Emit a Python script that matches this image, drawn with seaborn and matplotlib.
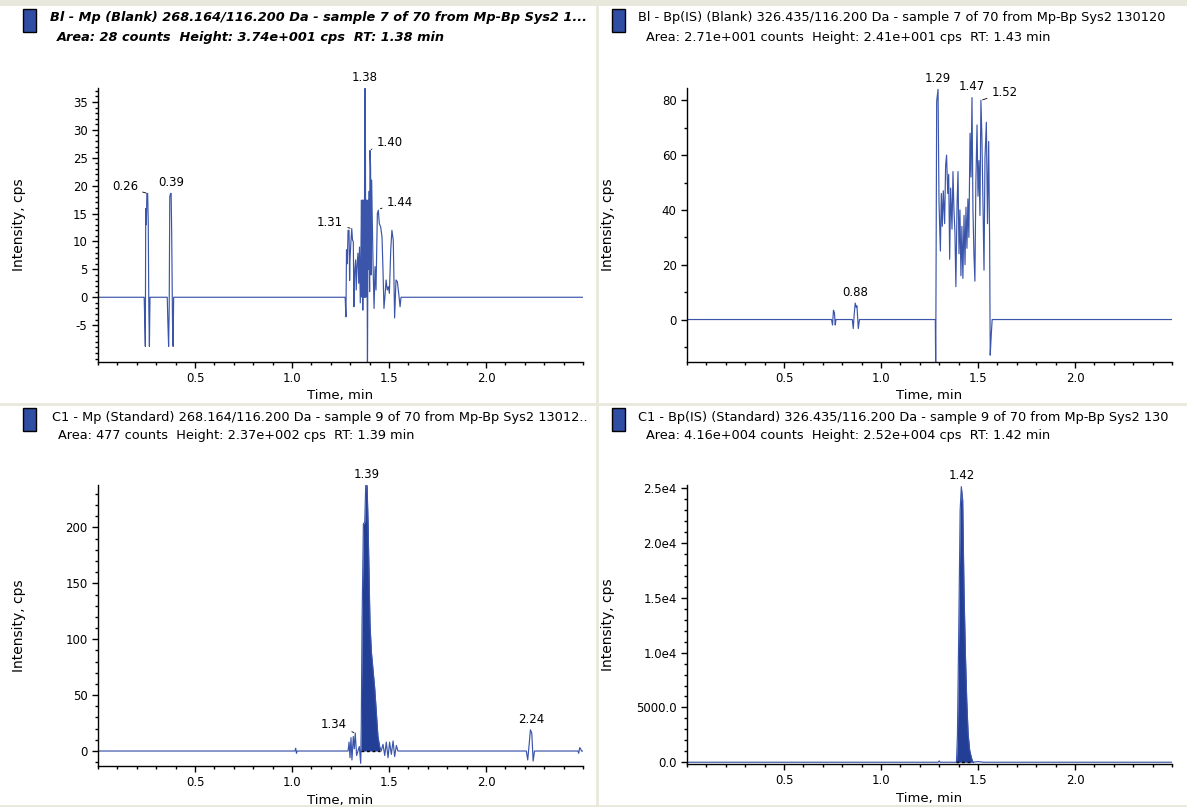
import matplotlib
matplotlib.use('Agg')
import matplotlib.pyplot as plt
import seaborn as sns
from matplotlib.lines import Line2D
from matplotlib.patches import Rectangle
from matplotlib.ticker import MultipleLocator

W, H = 1187, 807
LINE_BLUE = '#3b55aa'
FILL_BLUE = '#233e95'
ICON_BLUE = '#2f4ea3'
FRAME = '#e9e8dc'

# Bl - Mp (Blank): time (min) / intensity (cps)
blank_mp_time = [0.00, 0.238, 0.241, 0.244, 0.246, 0.249, 0.252, 0.256, 0.259, 0.262, 0.265, 0.268,
                 0.357, 0.360, 0.364, 0.367, 0.370, 0.374, 0.377, 0.380, 0.384, 0.387, 0.390,
                 1.274, 1.278, 1.281, 1.285, 1.289, 1.294, 1.297, 1.299, 1.303, 1.308, 1.312, 1.316,
                 1.319, 1.323, 1.328, 1.331, 1.335, 1.340, 1.344, 1.348, 1.352, 1.355, 1.358, 1.361,
                 1.363, 1.365, 1.367, 1.369, 1.371, 1.373, 1.375, 1.378, 1.380, 1.382, 1.384, 1.386,
                 1.389, 1.392, 1.395, 1.398, 1.400, 1.402, 1.405, 1.408, 1.410, 1.412, 1.418, 1.423,
                 1.428, 1.433, 1.440, 1.445, 1.450, 1.457, 1.464, 1.469, 1.474, 1.479, 1.485, 1.491,
                 1.497, 1.502, 1.509, 1.515, 1.522, 1.529, 1.536, 1.543, 1.550, 1.557, 1.562, 2.50]
blank_mp_int = [0, 0, -4.3, -8.8, 15.9, 13.0, 18.6, 18.6, 13.5, -2.0, -8.8, 0,
                0, -4.3, -8.8, -2.0, 18.0, 18.6, 18.6, 11.0, -4.3, -8.8, 0,
                0, -3.5, 8.5, 6.0, 12.0, 12.0, 3.0, 6.7, 9.5, 12.3, 10.2, 10.0,
                -1.7, 4.5, 6.7, 1.3, 5.5, 7.9, 2.5, 9.0, -1.0, 7.0, 17.4, 0.0,
                17.4, -2.3, 17.4, 0.5, 17.4, 0.0, 37.4, 37.4, 0.0, 17.4, 5.0, 17.4,
                -14.0, 17.4, 5.0, 19.0, 1.0, 26.3, 23.3, 4.0, 21.0, 17.4, 5.5, -2.0,
                5.5, 1.3, 15.0, 15.6, 13.2, 12.6, 10.8, 4.9, -2.0, 0.1, 3.1, 1.3,
                1.9, 0.7, 8.5, 12.0, 10.2, -3.7, 3.1, 2.8, 0.7, -1.7, 0, 0]

# Bl - Bp(IS) (Blank)
blank_bp_time = [0.00, 0.745, 0.750, 0.755, 0.760, 0.764, 0.768,
                 0.852, 0.857, 0.862, 0.867, 0.872, 0.876, 0.883, 0.889,
                 1.280, 1.282, 1.287, 1.294, 1.299, 1.306, 1.311, 1.316, 1.321, 1.328, 1.333, 1.338,
                 1.344, 1.349, 1.354, 1.359, 1.366, 1.371, 1.376, 1.381, 1.386, 1.392, 1.397, 1.402,
                 1.407, 1.412, 1.417, 1.422, 1.428, 1.433, 1.438, 1.443, 1.448, 1.453, 1.459, 1.464,
                 1.469, 1.474, 1.479, 1.484, 1.489, 1.495, 1.500, 1.505, 1.510, 1.515, 1.520, 1.525,
                 1.531, 1.536, 1.543, 1.549, 1.555, 1.560, 1.563, 1.568, 1.573, 2.50]
blank_bp_int = [0, 0, -2.0, 3.4, 2.5, -2.0, 0,
                0, -3.3, 2.0, 6.0, 4.5, 5.0, -3.3, 0,
                0, -18.0, 79.7, 84.0, 43.0, 25.0, 46.0, 34.0, 47.0, 35.0, 56.0, 60.0,
                46.0, 53.0, 22.0, 48.0, 33.0, 54.0, 40.0, 32.0, 12.0, 42.0, 54.0, 24.0,
                40.0, 16.0, 34.0, 15.0, 38.0, 20.0, 41.0, 26.0, 44.0, 30.0, 68.0, 52.0,
                81.0, 40.0, 24.0, 14.0, 50.0, 71.0, 45.0, 58.0, 38.0, 80.0, 67.0, 45.0,
                18.0, 59.0, 72.0, 35.0, 65.0, 28.0, -13.0, -6.0, 0, 0]

# C1 - Mp (Standard)
std_mp_time = [0.00, 1.015, 1.019, 1.023, 1.027,
               1.289, 1.294, 1.299, 1.304, 1.309, 1.316, 1.321, 1.326, 1.333, 1.340, 1.347, 1.354,
               1.357, 1.361, 1.368, 1.375, 1.380, 1.387, 1.392, 1.397, 1.402, 1.409, 1.418, 1.426,
               1.435, 1.443, 1.452, 1.460, 1.469, 1.478, 1.486, 1.495, 1.503, 1.512, 1.521, 1.529,
               1.538, 1.546, 2.208, 2.215, 2.222, 2.229, 2.236, 2.243, 2.250,
               2.474, 2.478, 2.483, 2.488, 2.492, 2.50]
std_mp_int = [0, 0, 2.5, -2.0, 0,
              0, 8, -6, 12, -8, 13, 2, 16, -4, 0, 4, -11,
              22, 114, 203, 205, 237.5, 237.5, 205, 160, 114, 89, 72, 57,
              34, 13, 4, 0, 6, -4, 8, -6, 8, -3, 9, -5,
              5, 0, 0, -8, 5, 19, 16, -9, 0,
              0, -2, 3, 2, 0, 0]

# C1 - Bp(IS) (Standard)
std_bp_time = [0.00, 1.295, 1.300, 1.305, 1.389, 1.394, 1.401, 1.408, 1.414, 1.421, 1.428, 1.435,
               1.442, 1.449, 1.457, 1.466, 1.474, 1.500, 1.530, 2.50]
std_bp_int = [0, 0, 120, 0, 0, 2480, 12300, 23000, 25150, 23900, 15600, 9900,
              5650, 2630, 1120, 420, 0, 60, 0, 0]

titles = [
    ('Bl - Mp (Blank) 268.164/116.200 Da - sample 7 of 70 from Mp-Bp Sys2 1...',
     'Area: 28 counts  Height: 3.74e+001 cps  RT: 1.38 min'),
    ('Bl - Bp(IS) (Blank) 326.435/116.200 Da - sample 7 of 70 from Mp-Bp Sys2 130120',
     'Area: 2.71e+001 counts  Height: 2.41e+001 cps  RT: 1.43 min'),
    ('C1 - Mp (Standard) 268.164/116.200 Da - sample 9 of 70 from Mp-Bp Sys2 13012..',
     'Area: 477 counts  Height: 2.37e+002 cps  RT: 1.39 min'),
    ('C1 - Bp(IS) (Standard) 326.435/116.200 Da - sample 9 of 70 from Mp-Bp Sys2 130',
     'Area: 4.16e+004 counts  Height: 2.52e+004 cps  RT: 1.42 min'),
]

x_major = [0.5, 1.0, 1.5, 2.0]


def fig_rect(left, top, right, bottom):
    return [left / W, 1 - bottom / H, (right - left) / W, (bottom - top) / H]


def draw_panel(ax, time, intensity, ylim, yticks, ylabels, yminor, fill=None):
    if fill is not None:
        seg = [(t, v) for t, v in zip(time, intensity) if fill[0] <= t <= fill[1]]
        ax.fill_between([s[0] for s in seg], [s[1] for s in seg], 0, color=FILL_BLUE, lw=0)
        ax.plot(fill, [0, 0], color='black', lw=1, ls=(0, (2, 2)), zorder=4)
    sns.lineplot(x=time, y=intensity, ax=ax, color=LINE_BLUE, linewidth=0.85,
                 estimator=None, sort=False)
    ax.set_xlim(0, 2.5)
    ax.set_ylim(*ylim)
    ax.set_xticks(x_major)
    ax.set_xticklabels([f'{v:.1f}' for v in x_major])
    ax.xaxis.set_minor_locator(MultipleLocator(0.1))
    ax.set_yticks(yticks)
    ax.set_yticklabels(ylabels)
    ax.yaxis.set_minor_locator(MultipleLocator(yminor))
    ax.set_xlabel('Time, min', fontsize=9.5)
    ax.set_ylabel('Intensity, cps', fontsize=10)
    ax.xaxis.set_label_coords(0.5, -0.1)
    ax.yaxis.set_label_coords(-0.148, 0.5)
    ax.tick_params(which='both', direction='out', color='black', width=1, labelsize=8.5,
                   bottom=True, left=True, top=False, right=False)
    ax.tick_params(which='major', length=4.5, pad=3)
    ax.tick_params(which='minor', length=2.5)
    sns.despine(ax=ax)
    for side in ('left', 'bottom'):
        ax.spines[side].set_color('black')
        ax.spines[side].set_linewidth(1.0)


def label_peak(ax, text, xy, xytext=None, ha='center'):
    if xytext is None:
        ax.annotate(text, xy=xy, xytext=(0, 3), textcoords='offset points', ha='center',
                    va='bottom', fontsize=8.5, annotation_clip=False)
    else:
        ax.annotate(text, xy=xy, xytext=xytext, ha=ha, va='center', fontsize=8.5,
                    annotation_clip=False,
                    arrowprops=dict(arrowstyle='-', lw=0.6, color='black', shrinkA=1, shrinkB=1))


sns.set_style('ticks')
plt.rcParams['font.family'] = ['DejaVu Sans']
for key in ('text.color', 'axes.labelcolor', 'xtick.color', 'ytick.color'):
    plt.rcParams[key] = 'black'

fig = plt.figure(figsize=(W / 100, H / 100), dpi=100)
fig.patch.set_facecolor('white')

ax_tl = fig.add_axes(fig_rect(98, 88, 583, 362))
ax_tr = fig.add_axes(fig_rect(687, 88, 1172, 362))
ax_bl = fig.add_axes(fig_rect(98, 485, 583, 766))
ax_br = fig.add_axes(fig_rect(687, 485, 1172, 764))

draw_panel(ax_tl, blank_mp_time, blank_mp_int, (-11.6, 37.5),
           [-5, 0, 5, 10, 15, 20, 25, 30, 35], ['-5', '0', '5', '10', '15', '20', '25', '30', '35'], 1)
draw_panel(ax_tr, blank_bp_time, blank_bp_int, (-15.5, 84.5),
           [0, 20, 40, 60, 80], ['0', '20', '40', '60', '80'], 10)
draw_panel(ax_bl, std_mp_time, std_mp_int, (-13.4, 238),
           [0, 50, 100, 150, 200], ['0', '50', '100', '150', '200'], 10, fill=(1.354, 1.452))
draw_panel(ax_br, std_bp_time, std_bp_int, (-160, 25300),
           [0, 5000, 10000, 15000, 20000, 25000],
           ['0.0', '5000.0', '1.0e4', '1.5e4', '2.0e4', '2.5e4'], 1000, fill=(1.389, 1.474))

label_peak(ax_tl, '0.26', (0.255, 18.6), (0.206, 19.8), ha='right')
label_peak(ax_tl, '0.39', (0.375, 18.6))
label_peak(ax_tl, '1.31', (1.307, 12.3), (1.264, 13.4), ha='right')
label_peak(ax_tl, '1.38', (1.377, 37.4))
label_peak(ax_tl, '1.40', (1.408, 26.5), (1.436, 27.7), ha='left')
label_peak(ax_tl, '1.44', (1.449, 15.8), (1.488, 17.0), ha='left')

label_peak(ax_tr, '0.88', (0.867, 6.0))
label_peak(ax_tr, '1.29', (1.292, 84.0))
label_peak(ax_tr, '1.47', (1.469, 81.0))
label_peak(ax_tr, '1.52', (1.517, 80.0), (1.570, 83.0), ha='left')

label_peak(ax_bl, '1.34', (1.326, 16.0), (1.285, 24.0), ha='right')
label_peak(ax_bl, '1.39', (1.383, 237.5))
label_peak(ax_bl, '2.24', (2.232, 19.0))

label_peak(ax_br, '1.42', (1.417, 25150))

# panel headers with the blue trace icon
header_pos = [(23, 9, 50, 57), (612, 9, 638, 646), (23, 408, 52, 58), (612, 408, 638, 646)]
for i, ((line1, line2), (ix, iy, tx1, tx2)) in enumerate(zip(titles, header_pos)):
    fig.add_artist(Rectangle((ix / W, 1 - (iy + 23) / H), 13 / W, 23 / H, transform=fig.transFigure,
                             facecolor=ICON_BLUE, edgecolor='black', lw=1.0))
    style = dict(fontsize=9.3, va='center', ha='left')
    if i == 0:
        style.update(fontweight='bold', fontstyle='italic')
    fig.text(tx1 / W, 1 - (iy + 9) / H, line1, **style)
    fig.text(tx2 / W, 1 - (iy + 28) / H, line2, **style)

# pane separators
fig.add_artist(Line2D([597 / W, 597 / W], [0, 1], transform=fig.transFigure, color=FRAME, lw=2))
fig.add_artist(Line2D([0, 1], [1 - 404 / H, 1 - 404 / H], transform=fig.transFigure, color=FRAME, lw=2))
fig.add_artist(Line2D([0, 1], [1 - 2 / H, 1 - 2 / H], transform=fig.transFigure, color=FRAME, lw=5))
fig.add_artist(Line2D([0, 1], [1 - 806 / H, 1 - 806 / H], transform=fig.transFigure, color=FRAME, lw=2))

fig.savefig('out.png', dpi=100)
